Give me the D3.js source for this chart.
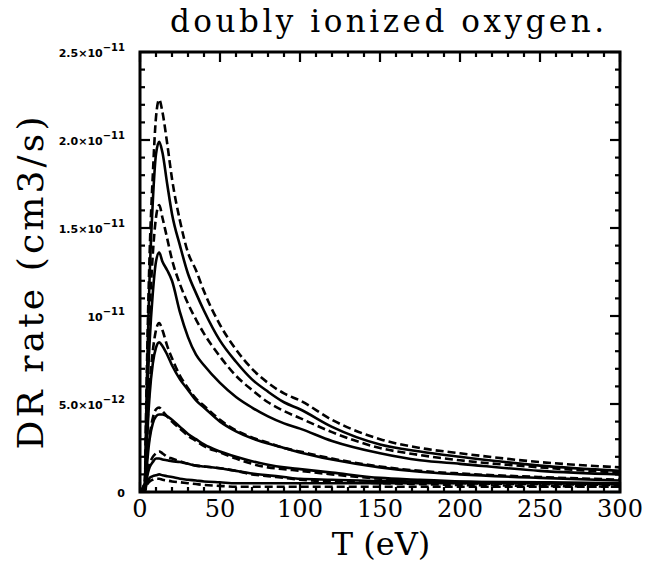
<!DOCTYPE html>
<html>
<head>
<meta charset="utf-8">
<script src="https://cdn.jsdelivr.net/npm/d3@7"></script>
<style>
  html, body { margin: 0; padding: 0; background: #fff; }
  svg { display: block; }
</style>
</head>
<body>
<svg id="chart" width="646" height="565"></svg>
<script>
// Temperature grid (eV) shared by every curve
const temps = [0, 3, 4, 5, 6, 8, 10, 12, 14, 17, 20, 25, 30, 35, 40, 50, 60, 70, 80, 90, 100, 120, 150, 175, 200, 250, 300];

// DR rate coefficients, in units of 1e-12 cm3/s (solid = set A, dashed = set B)
const dashed1 = [0, 0.6, 5.5, 10, 13.5, 18, 21.3, 22.3, 21.6, 19.8, 17.8, 15.4, 13.6, 12.6, 11.4, 9.5, 8.1, 7.0, 6.2, 5.6, 5.2, 4.1, 3.0, 2.5, 2.2, 1.7, 1.4];
const solid1  = [0, 0.5, 5, 9, 12.2, 16.5, 19.2, 19.9, 19.3, 17.5, 15.8, 14.0, 12.4, 11.3, 10.3, 8.6, 7.4, 6.4, 5.7, 5.1, 4.7, 3.7, 2.7, 2.3, 2.0, 1.5, 1.2];
const dashed2 = [0, 0.4, 4, 7.5, 10, 13.5, 15.6, 16.3, 15.6, 14.4, 13.2, 11.8, 10.7, 9.8, 9.0, 7.7, 6.6, 5.8, 5.1, 4.6, 4.2, 3.4, 2.5, 2.1, 1.8, 1.4, 1.1];
const solid2  = [0, 0.3, 3.5, 6.5, 8.5, 11.3, 13.1, 13.6, 13.1, 12.6, 12.0, 10.2, 8.8, 7.8, 7.2, 6.2, 5.4, 4.8, 4.3, 3.9, 3.6, 2.9, 2.2, 1.8, 1.6, 1.2, 1.0];
const dashed3 = [0, 0.3, 2.5, 4.5, 6, 8, 9.2, 9.6, 9.2, 8.3, 7.6, 6.6, 5.9, 5.3, 4.9, 4.1, 3.5, 3.1, 2.8, 2.5, 2.3, 1.9, 1.45, 1.2, 1.05, 0.85, 0.7];
const solid3  = [0, 0.2, 2, 4, 5.5, 7.3, 8.2, 8.5, 8.3, 7.8, 7.2, 6.4, 5.8, 5.2, 4.8, 4.0, 3.45, 3.05, 2.75, 2.5, 2.25, 1.85, 1.4, 1.15, 1.0, 0.8, 0.65];
const dashed4 = [0, 0.2, 1.5, 2.5, 3.2, 4.2, 4.7, 4.8, 4.6, 4.3, 4.0, 3.6, 3.2, 2.9, 2.6, 2.25, 1.9, 1.6, 1.4, 1.3, 1.2, 1.0, 0.75, 0.6, 0.5, 0.45, 0.4];
const solid4  = [0, 0.1, 1.2, 2.2, 3, 3.9, 4.3, 4.4, 4.4, 4.3, 4.1, 3.7, 3.3, 3.0, 2.7, 2.3, 2.0, 1.75, 1.55, 1.4, 1.3, 1.1, 0.8, 0.7, 0.6, 0.5, 0.45];
const dashed5 = [0, 0.1, 0.8, 1.3, 1.6, 2.0, 2.2, 2.3, 2.2, 2.0, 1.9, 1.75, 1.6, 1.5, 1.45, 1.35, 1.2, 1.0, 0.9, 0.8, 0.7, 0.6, 0.5, 0.45, 0.4, 0.35, 0.3];
const solid5  = [0, 0.1, 0.6, 1.1, 1.4, 1.7, 1.9, 1.9, 1.85, 1.8, 1.75, 1.7, 1.6, 1.5, 1.45, 1.35, 1.2, 1.05, 0.95, 0.85, 0.75, 0.7, 0.62, 0.6, 0.58, 0.55, 0.5];
const dashed6 = [0, 0.05, 0.3, 0.5, 0.6, 0.7, 0.75, 0.75, 0.7, 0.65, 0.6, 0.55, 0.5, 0.45, 0.4, 0.35, 0.3, 0.3, 0.3, 0.3, 0.3, 0.3, 0.3, 0.3, 0.3, 0.3, 0.3];
const solid6  = [0, 0.05, 0.4, 0.6, 0.8, 0.9, 0.95, 1.0, 0.95, 0.9, 0.85, 0.75, 0.7, 0.65, 0.6, 0.55, 0.5, 0.5, 0.5, 0.5, 0.5, 0.5, 0.5, 0.5, 0.5, 0.5, 0.5];

// Axis ticks and labels
const xTicks = [0, 50, 100, 150, 200, 250, 300];
const yTicks = [0, 5, 10, 15, 20, 25];                 // in 1e-12
const yTickMant = ["0", "5.0\u00d710", "10", "1.5\u00d710", "2.0\u00d710", "2.5\u00d710"];
const yTickExp  = ["", "\u221212", "\u221211", "\u221211", "\u221211", "\u221211"];

const titleText = "doubly ionized oxygen.";
const xLabel = "T (eV)";
const yLabel = "DR rate (cm3/s)";

const series = [
  { values: dashed1, dashed: true },  { values: solid1, dashed: false },
  { values: dashed2, dashed: true },  { values: solid2, dashed: false },
  { values: dashed3, dashed: true },  { values: solid3, dashed: false },
  { values: dashed4, dashed: true },  { values: solid4, dashed: false },
  { values: dashed5, dashed: true },  { values: solid5, dashed: false },
  { values: dashed6, dashed: true },  { values: solid6, dashed: false }
];

const svg = d3.select("#chart");
const plot = { left: 140, right: 620, top: 52, bottom: 492 };

const x = d3.scaleLinear().domain([0, 300]).range([plot.left, plot.right]);
const y = d3.scaleLinear().domain([0, 25]).range([plot.bottom, plot.top]);

const serif = "'DejaVu Serif', serif";

// Title
svg.append("text")
  .attr("x", 387).attr("y", 32)
  .attr("text-anchor", "middle")
  .attr("font-family", serif).attr("font-size", 31)
  .attr("textLength", 434).attr("lengthAdjust", "spacing")
  .text(titleText);

// Curves
svg.append("clipPath").attr("id", "plotclip")
  .append("rect").attr("x", plot.left).attr("y", plot.top)
  .attr("width", plot.right - plot.left).attr("height", plot.bottom - plot.top);

const line = d3.line()
  .x((d, i) => x(temps[i]))
  .y(d => y(d))
  .curve(d3.curveMonotoneX);

svg.append("g").attr("clip-path", "url(#plotclip)")
  .selectAll("path").data(series).join("path")
  .attr("d", s => line(s.values))
  .attr("fill", "none")
  .attr("stroke", "#000")
  .attr("stroke-width", 2.6)
  .attr("stroke-linejoin", "round")
  .attr("stroke-dasharray", s => s.dashed ? "8,4" : null);

// Ticks: minor every 10 eV / 1e-12, major every 50 eV / 5e-12, all pointing inward
const xMinor = d3.range(0, 301, 10);
const yMinor = d3.range(0, 25.01, 1);
const ticks = svg.append("g").attr("stroke", "#000").attr("stroke-width", 2.2);

ticks.selectAll(".xb").data(xMinor).join("line")
  .attr("x1", d => x(d)).attr("x2", d => x(d))
  .attr("y1", plot.bottom).attr("y2", d => plot.bottom - (d % 50 === 0 ? 10 : 5));
ticks.selectAll(".xt").data(xMinor).join("line")
  .attr("x1", d => x(d)).attr("x2", d => x(d))
  .attr("y1", plot.top).attr("y2", d => plot.top + (d % 50 === 0 ? 10 : 5));
ticks.selectAll(".yl").data(yMinor).join("line")
  .attr("y1", d => y(d)).attr("y2", d => y(d))
  .attr("x1", plot.left).attr("x2", d => plot.left + (d % 5 === 0 ? 10 : 5));
ticks.selectAll(".yr").data(yMinor).join("line")
  .attr("y1", d => y(d)).attr("y2", d => y(d))
  .attr("x1", plot.right).attr("x2", d => plot.right - (d % 5 === 0 ? 10 : 5));

// Frame
svg.append("rect")
  .attr("x", plot.left).attr("y", plot.top)
  .attr("width", plot.right - plot.left).attr("height", plot.bottom - plot.top)
  .attr("fill", "none").attr("stroke", "#000").attr("stroke-width", 3);

// X tick labels
svg.append("g").selectAll("text").data(xTicks).join("text")
  .attr("x", d => x(d)).attr("y", 517)
  .attr("text-anchor", "middle")
  .attr("font-family", serif).attr("font-size", 24)
  .text(d => d);

// Y tick labels with superscript exponents
const yl = svg.append("g").selectAll("text").data(yTicks).join("text")
  .attr("x", 125).attr("y", d => y(d) + 5)
  .attr("text-anchor", "end")
  .attr("font-family", "'DejaVu Sans', sans-serif")
  .attr("font-weight", "bold").attr("font-size", 11);
yl.append("tspan").text((d, i) => yTickMant[i]);
yl.append("tspan").attr("dy", -6).attr("font-size", 10).text((d, i) => yTickExp[i]);

// Axis titles
svg.append("text")
  .attr("x", 381).attr("y", 555)
  .attr("text-anchor", "middle")
  .attr("font-family", serif).attr("font-size", 32)
  .text(xLabel);

svg.append("text")
  .attr("transform", "translate(43,283) rotate(-90)")
  .attr("text-anchor", "middle")
  .attr("font-family", serif).attr("font-size", 36)
  .attr("textLength", 333).attr("lengthAdjust", "spacing")
  .text(yLabel);
</script>
</body>
</html>
